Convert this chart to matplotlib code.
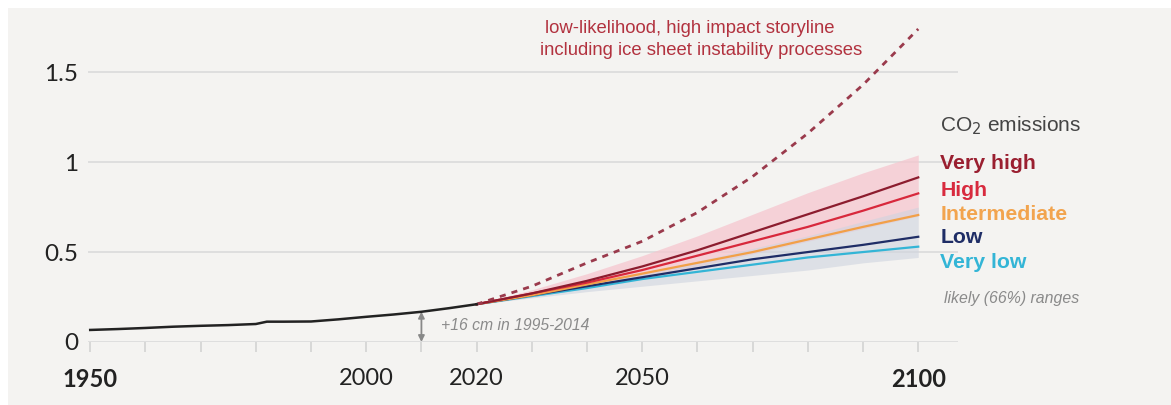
import matplotlib.pyplot as plt
from matplotlib.patches import Rectangle

# Observed sea level (m, relative to 1900)
hist_years = [1950, 1955, 1960, 1965, 1970, 1975, 1980, 1982, 1985, 1990,
              1995, 2000, 2005, 2010, 2015, 2020]
hist_level = [0.067, 0.072, 0.078, 0.085, 0.090, 0.094, 0.100, 0.113, 0.113,
              0.114, 0.126, 0.140, 0.153, 0.168, 0.188, 0.21]

# Projections by emissions scenario
proj_years = [2020, 2030, 2040, 2050, 2060, 2070, 2080, 2090, 2100]
very_high = [0.21, 0.27, 0.34, 0.42, 0.51, 0.61, 0.71, 0.81, 0.915]
high = [0.21, 0.27, 0.33, 0.40, 0.48, 0.56, 0.64, 0.73, 0.826]
intermediate = [0.21, 0.26, 0.32, 0.38, 0.44, 0.50, 0.57, 0.64, 0.706]
low = [0.21, 0.26, 0.31, 0.36, 0.41, 0.46, 0.50, 0.54, 0.585]
very_low = [0.21, 0.255, 0.30, 0.35, 0.39, 0.43, 0.47, 0.50, 0.53]

# likely ranges
vh_lo = [0.21, 0.25, 0.30, 0.36, 0.42, 0.49, 0.56, 0.63, 0.70]
vh_hi = [0.21, 0.29, 0.38, 0.48, 0.59, 0.71, 0.83, 0.94, 1.04]
vl_lo = [0.21, 0.245, 0.28, 0.31, 0.34, 0.37, 0.40, 0.44, 0.47]
vl_hi = [0.21, 0.265, 0.32, 0.38, 0.45, 0.52, 0.59, 0.67, 0.75]

# low-likelihood, high impact storyline
story = [0.21, 0.31, 0.44, 0.56, 0.72, 0.92, 1.16, 1.43, 1.74]

scenario_names = ['Very high', 'High', 'Intermediate', 'Low', 'Very low']
scenario_colors = ['#8c1c2e', '#d8283c', '#f2a048', '#1f2d66', '#33b5d6']
label_colors = ['#9a1f30', '#d82a3e', '#f2a44e', '#1f2d66', '#33b5d6']
label_y = [0.994, 0.84, 0.71, 0.583, 0.444]

bg = '#f4f3f1'
fig = plt.figure(figsize=(11.71, 4.05), dpi=100, facecolor=bg)
fig.add_artist(Rectangle((0, 0.98), 1, 0.02, transform=fig.transFigure,
                         facecolor='white', edgecolor='none'))
fig.add_artist(Rectangle((0, 0), 0.007, 1, transform=fig.transFigure,
                         facecolor='white', edgecolor='none'))

ax = fig.add_axes([88 / 1171, 63 / 405, 870 / 1171, 322 / 405])
ax.set_facecolor(bg)
ax.set_xlim(1949.6, 2107.2)
ax.set_ylim(0, 1.79)

for s in ax.spines.values():
    s.set_visible(False)

for g in [0, 0.5, 1, 1.5]:
    ax.axhline(g, color='#dedede', lw=1.4, zorder=0)

# shaded ranges
ax.fill_between(proj_years, vh_lo, vh_hi, color='#f6c6cf', alpha=0.75, lw=0, zorder=1)
ax.fill_between(proj_years, vl_lo, vl_hi, color='#cfd4df', alpha=0.6, lw=0, zorder=1)

series = [very_high, high, intermediate, low, very_low]
for vals, c in zip(series[::-1], scenario_colors[::-1]):
    ax.plot(proj_years, vals, color=c, lw=1.6, zorder=3)

ax.plot(proj_years, story, color='#9a3a4c', lw=2, ls=(0, (2.2, 2.2)), zorder=3)
ax.plot(hist_years, hist_level, color='#222222', lw=1.8, zorder=4)

# ticks
ax.set_xticks(range(1950, 2101, 10))
ax.set_xticklabels(['' if y not in (1950, 2000, 2020, 2050, 2100) else str(y)
                    for y in range(1950, 2101, 10)])
ax.tick_params(axis='x', length=7, width=1.1, color='#d0d0d0', pad=12,
               labelsize=17, labelcolor='#222222')
for lab in ax.get_xticklabels():
    lab.set_fontfamily('Lato')
    if lab.get_text() in ('1950', '2100'):
        lab.set_fontweight('bold')
ax.set_yticks([0, 0.5, 1, 1.5])
ax.set_yticklabels(['0', '0.5', '1', '1.5'], fontfamily='Lato')
ax.tick_params(axis='y', length=0, pad=7, labelsize=17.5, labelcolor='#222222')

# 1995-2014 offset marker
ax.annotate('', xy=(2010, 0.0), xytext=(2010, 0.168),
            arrowprops=dict(arrowstyle='<|-|>', color='#888888', lw=1.3,
                            shrinkA=0, shrinkB=0, mutation_scale=9))
ax.text(2013.6, 0.094, '+16 cm in 1995-2014', fontsize=11.3, style='italic',
        color='#8a8a8a', va='center', ha='left', family='Liberation Sans')

# storyline label
ax.text(2058.6, 1.74, 'low-likelihood, high impact storyline', fontsize=13.3,
        color='#b2323f', ha='center', va='center', family='Liberation Sans')
ax.text(2060.6, 1.618, 'including ice sheet instability processes', fontsize=13.3,
        color='#b2323f', ha='center', va='center', family='Liberation Sans')

# scenario labels
ax.text(2104, 1.205, 'CO$_2$ emissions', fontsize=15, color='#444444',
        ha='left', va='center', family='Liberation Sans', clip_on=False)
for name, c, y in zip(scenario_names, label_colors, label_y):
    ax.text(2104, y, name, fontsize=15.3, fontweight='bold', color=c,
            ha='left', va='center', family='Liberation Sans', clip_on=False)
ax.text(2104.7, 0.24, 'likely (66%) ranges', fontsize=11.4, style='italic',
        color='#8a8a8a', ha='left', va='center', family='Liberation Sans',
        clip_on=False)

fig.savefig('out.png', dpi=100, facecolor=bg)
